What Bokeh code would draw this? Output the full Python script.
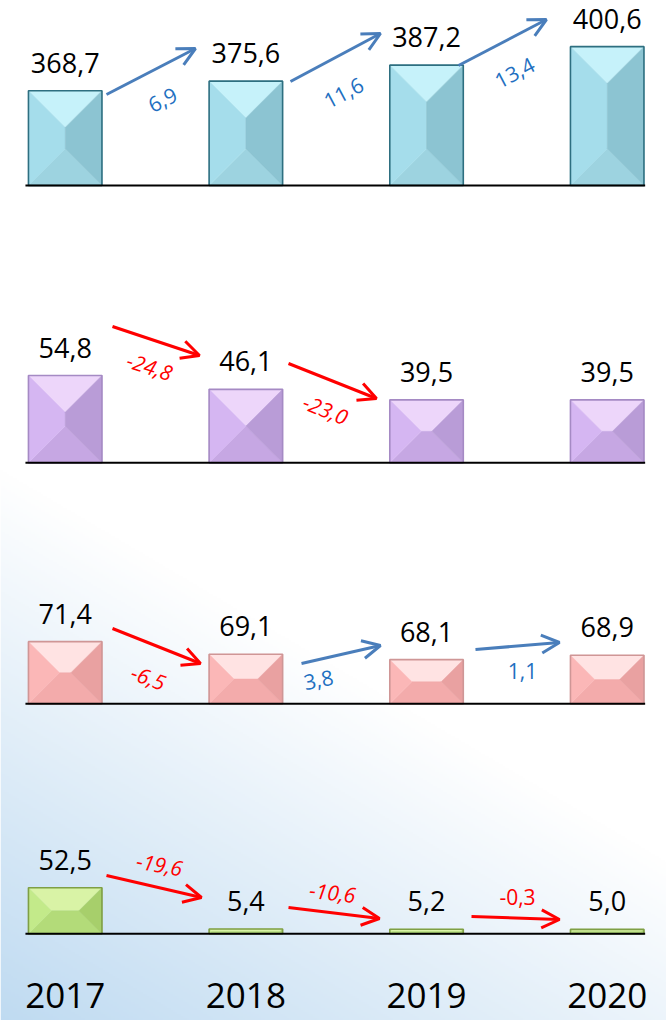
import numpy as np
from bokeh.plotting import figure
from bokeh.models import Range1d, Arrow, OpenHead, ColumnDataSource
from bokeh.core.properties import value
from bokeh.embed import file_html
from bokeh.resources import INLINE

# ---------------- data ----------------
years = ["2017", "2018", "2019", "2020"]
s1 = [368.7, 375.6, 387.2, 400.6]
s2 = [54.8, 46.1, 39.5, 39.5]
s3 = [71.4, 69.1, 68.1, 68.9]
s4 = [52.5, 5.4, 5.2, 5.0]
ch1 = ["6,9", "11,6", "13,4"]
ch2 = ["-24,8", "-23,0"]
ch3 = ["-6,5", "3,8", "1,1"]
ch4 = ["-19,6", "-10,6", "-0,3"]

# ---------------- layout constants ----------------
W, H = 666, 1020
FONT = "Open Sans"
X0_PX, XK = 64.7, 180.67          # centre of first bar, px between bars
BAR_W_PX = 73.5

panels = [
    # values, base value, baseline px, px per unit, colours (top, left, right, bottom, outline)
    dict(v=s1, base=300.0, ypx=185.0, k=1.38,
         col=("#C6F2FA", "#A5DDEB", "#8CC4D2", "#9DD3E0", "#2E6F80")),
    dict(v=s2, base=0.0, ypx=462.3, k=1.593,
         col=("#EDD6FA", "#D5B6F2", "#B99CD7", "#C6A7E3", "#A58AC4")),
    dict(v=s3, base=60.0, ypx=703.3, k=5.45,
         col=("#FFE3E3", "#FBB7B7", "#E9A1A1", "#F3ABAB", "#CF9696")),
    dict(v=s4, base=0.0, ypx=933.3, k=0.876,
         col=("#D9F3A6", "#C3EA8A", "#A7CF6B", "#B3DB79", "#7F9F45")),
]

p = figure(width=W, height=H, output_backend="svg", toolbar_location=None,
           x_range=Range1d(0, W), y_range=Range1d(H, 0),
           min_border=0, min_border_left=0, min_border_right=0,
           min_border_top=0, min_border_bottom=0)
p.axis.visible = False
p.grid.visible = False
p.outline_line_color = None
p.background_fill_color = "white"
p.border_fill_color = "white"

p.extra_x_ranges["idx"] = Range1d(-X0_PX / XK, (W - X0_PX) / XK)
p.extra_x_ranges["bg"] = Range1d(0, 1)
p.extra_y_ranges["bg"] = Range1d(0, 1)
for n, pan in enumerate(panels):
    b, ypx, k = pan["base"], pan["ypx"], pan["k"]
    p.extra_y_ranges[f"p{n}"] = Range1d(b - (H - ypx) / k, b + ypx / k)

# ---------------- background gradient ----------------
GH, GW = 510, 333
rows = np.arange(GH)
cols = np.arange(GW)
Yref = H - (rows + 0.5) * H / GH
Xref = (cols + 0.5) * W / GW
YY, XX = np.meshgrid(Yref, Xref, indexing="ij")
t = np.clip((YY - 470) / 560 - XX / 666 * 0.7, 0, 1)
c1 = np.array([255, 255, 255])
c2 = np.array([190, 218, 241])
rgb = c1[None, None, :] * (1 - t[..., None]) + c2[None, None, :] * t[..., None]
img = np.zeros((GH, GW), dtype=np.uint32)
view = img.view(dtype=np.uint8).reshape((GH, GW, 4))
view[..., 0] = rgb[..., 0].astype(np.uint8)
view[..., 1] = rgb[..., 1].astype(np.uint8)
view[..., 2] = rgb[..., 2].astype(np.uint8)
view[..., 3] = 255
p.image_rgba(image=[img], x=0, y=0, dw=1, dh=1, x_range_name="bg", y_range_name="bg")

# ---------------- bars ----------------
hw_u = BAR_W_PX / 2 / XK
for n, pan in enumerate(panels):
    b, k = pan["base"], pan["k"]
    ctop, cleft, cright, cbot, cline = pan["col"]
    xs, ys, fills = [], [], []
    L_, R_, T_, B_ = [], [], [], []
    for i, v in enumerate(pan["v"]):
        h_px = (v - b) * k
        d = min(BAR_W_PX / 2, h_px / 2)
        dxu, dyu = d / XK, d / k
        L, R, T, B = i - hw_u, i + hw_u, v, b
        xl, xr, yb, yt = L + dxu, R - dxu, B + dyu, T - dyu
        xs += [[L, R, xr, xl], [L, R, xr, xl], [L, xl, xl, L], [R, xr, xr, R]]
        ys += [[T, T, yt, yt], [B, B, yb, yb], [T, yt, yb, B], [T, yt, yb, B]]
        fills += [ctop, cbot, cleft, cright]
        L_.append(L); R_.append(R); T_.append(T); B_.append(B)
    p.patches(xs=xs, ys=ys, fill_color=fills, line_color=fills, line_width=0.5,
              x_range_name="idx", y_range_name=f"p{n}")
    p.quad(left=L_, right=R_, top=T_, bottom=B_, fill_color=None,
           line_color=cline, line_width=1.6,
           x_range_name="idx", y_range_name=f"p{n}")
    # base line
    p.segment(x0=[-0.22], x1=[3.21], y0=[b], y1=[b], line_color="black", line_width=2,
              x_range_name="idx", y_range_name=f"p{n}")
    # value labels
    src = ColumnDataSource(dict(x=list(range(4)), y=pan["v"],
                                t=[f"{v:.1f}".replace(".", ",") for v in pan["v"]]))
    p.text(x="x", y="y", text="t", source=src, y_offset=-28,
           text_font=value(FONT), text_font_size="27px", text_color="black",
           text_align="center", text_baseline="alphabetic",
           x_range_name="idx", y_range_name=f"p{n}")

# year labels
ysrc = ColumnDataSource(dict(x=list(range(4)), y=[0, 0, 0, 0], t=years))
p.text(x="x", y="y", text="t", source=ysrc, y_offset=62,
       text_font=value(FONT), text_font_size="35px", text_color="black",
       text_align="center", text_baseline="alphabetic",
       x_range_name="idx", y_range_name="p3")

# ---------------- change arrows & labels (positions in page px) ----------------
arrows = [
    ((106, 94), (195, 48)), ((290, 81), (380, 33)), ((458, 65), (546, 19)),
    ((112, 326), (199, 355)), ((288, 363), (376, 398)),
    ((112, 628), (200, 663)), ((301, 663), (380, 645)), ((475, 649), (559, 642)),
    ((106, 875), (201, 897)), ((288, 907), (379, 918)), ((471, 916), (559, 919)),
]
changes = ch1 + ch2 + ch3 + ch4
label_pos = [(162, 99), (343, 92), (514, 72),
             (149, 366), (325, 409),
             (148, 677), (318, 679), (522, 670),
             (159, 864), (332, 892), (517, 896)]
label_ang = [27, 28, 27.5, -18, -22, -20, 11, 0, -10, -7, 0]
BLUE_ARROW, BLUE_TXT, RED = "#4A7EBB", "#1F70C1", "#FF0000"

for (a0, a1), txt in zip(arrows, changes):
    col = RED if txt.startswith("-") else BLUE_ARROW
    p.add_layout(Arrow(x_start=a0[0], y_start=a0[1],
                       x_end=a1[0], y_end=a1[1],
                       line_color=col, line_width=3,
                       end=OpenHead(size=18, line_color=col, line_width=3)))

lsrc = ColumnDataSource(dict(
    x=[q[0] for q in label_pos], y=[q[1] for q in label_pos],
    t=changes, a=[np.deg2rad(a) for a in label_ang],
    c=[RED if c.startswith("-") else BLUE_TXT for c in changes],
    s=["italic" if (c.startswith("-") and c != "-0,3") else "normal" for c in changes]))
p.text(x="x", y="y", text="t", angle="a", source=lsrc, text_color="c",
       text_font_style="s", text_font=value(FONT), text_font_size="21px",
       text_align="center", text_baseline="middle")

open("out.html", "w").write(file_html(p, INLINE))
